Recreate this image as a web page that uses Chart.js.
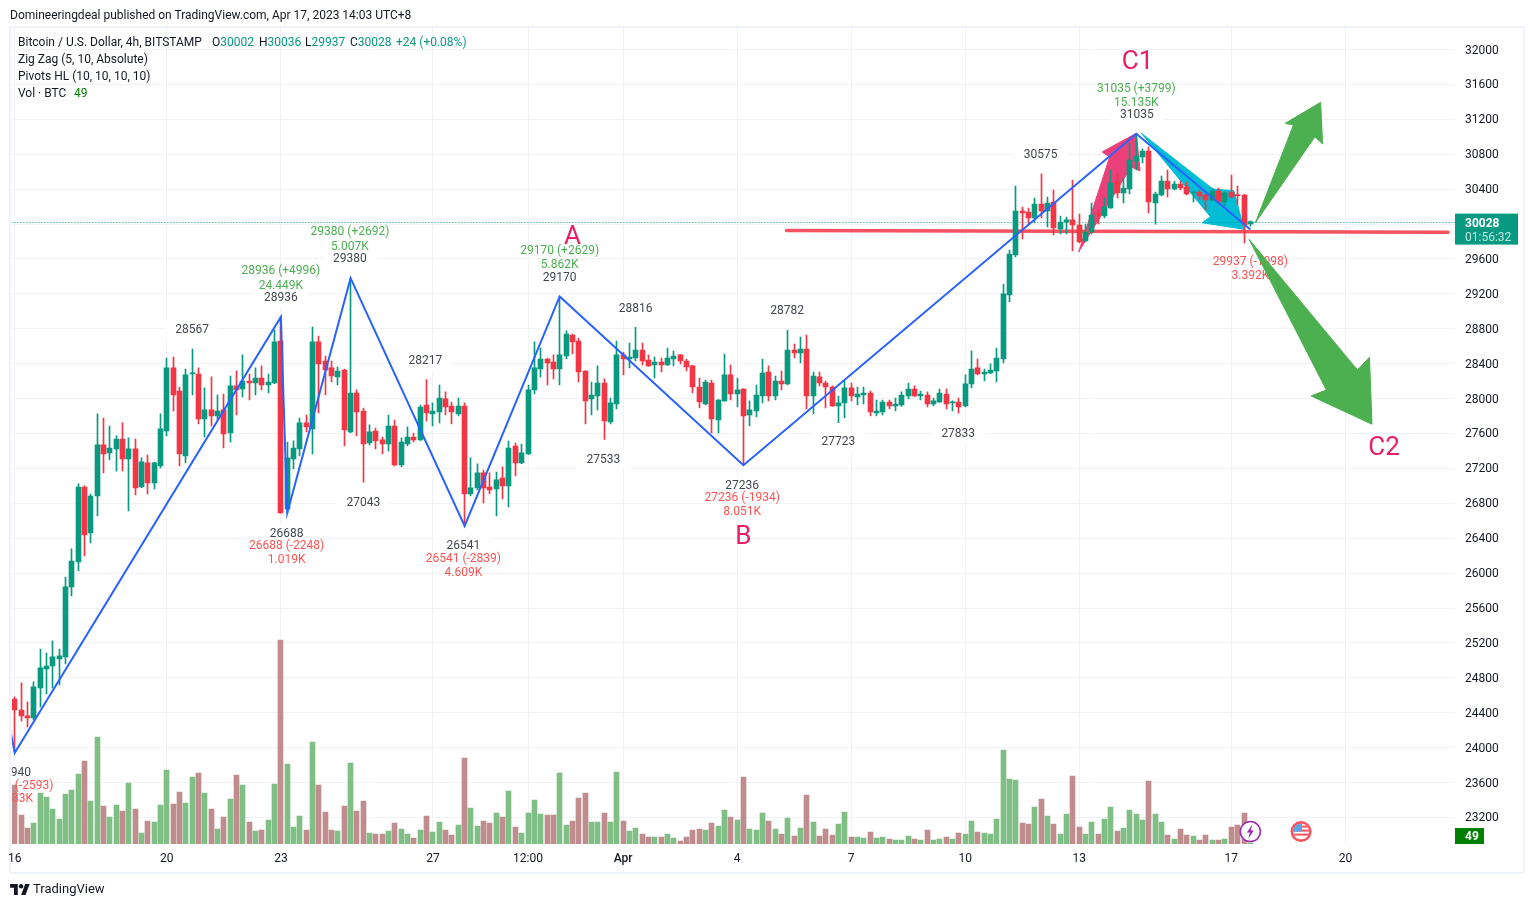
<!DOCTYPE html>
<html>
<head>
<meta charset="utf-8">
<title>BTCUSD 4h</title>
<script src="https://cdn.jsdelivr.net/npm/chart.js@4"></script>
<style>
  html, body { margin: 0; background: #fff; overflow: hidden; }
  body { width: 1533px; height: 907px; position: relative; font: 12px Roboto, sans-serif; color: #131722; }
  canvas { position: absolute; left: 0; top: 0; }
  .frame { position: absolute; left: 9px; top: 26px; width: 1512px; height: 844px; border: 2px solid #f0f3fa; }
  .txt { position: absolute; white-space: nowrap; line-height: 14px; z-index: 2; }
  .val { color: #089981; }
</style>
</head>
<body>
<div class="frame"></div>
<canvas id="chart" width="1533" height="907"></canvas>

<div class="txt" style="left:10px;top:8px">Domineeringdeal published on TradingView.com, Apr 17, 2023 14:03 UTC+8</div>
<div class="txt" style="left:18px;top:35px">Bitcoin / U.S. Dollar, 4h, BITSTAMP</div>
<div class="txt" style="left:212px;top:35px">O<span class="val">30002</span></div>
<div class="txt" style="left:259px;top:35px">H<span class="val">30036</span></div>
<div class="txt" style="left:305px;top:35px">L<span class="val">29937</span></div>
<div class="txt" style="left:350px;top:35px">C<span class="val">30028</span></div>
<div class="txt val" style="left:396px;top:35px">+24 (+0.08%)</div>
<div class="txt" style="left:18px;top:52px">Zig Zag (5, 10, Absolute)</div>
<div class="txt" style="left:18px;top:69px">Pivots HL (10, 10, 10, 10)</div>
<div class="txt" style="left:18px;top:86px">Vol · BTC</div>
<div class="txt" style="left:74px;top:86px;color:#008000">49</div>

<svg style="position:absolute;left:10px;top:884px" width="20" height="11" viewBox="0 0 36 20">
  <path fill="#131722" d="M14 20H7V7H0V0h14v20zM28 20h-8l7.5-20h8L28 20z"/><circle cx="20" cy="4" r="4" fill="#131722"/>
</svg>
<div class="txt" style="left:33px;top:882px;font-size:13px">TradingView</div>

<script>
// ── Data ─────────────────────────────────────────────────────────
const opens = [
  24558,24432,24364,24341,24684,24902,24936,25017,25040,25842,
  26128,26987,26460,26884,27469,27377,27423,27537,27308,27423,
  26988,27263,27033,27228,27629,28351,28087,27343,28284,28282,
  27767,27870,27801,27870,27606,28145,28110,28202,28179,28236,
  28156,28179,28660,26735,27308,27423,27721,27652,28649,28431,
  28351,28248,28328,27618,28064,27858,27491,27629,27526,27480,
  27686,27239,27480,27560,27526,27927,27824,27847,27996,27915,
  27824,27915,26907,26976,27148,26987,26964,27090,26999,27457,
  27262,27365,28099,28339,28454,28419,28339,28488,28729,28660,
  28316,27996,28030,28179,27732,27938,28500,28454,28465,28557,
  28442,28385,28419,28385,28454,28500,28431,28374,28133,27938,
  28179,27755,27973,28271,28053,28110,27812,27858,28030,28305,
  28030,28202,28167,28557,28522,28568,28030,28248,28179,28133,
  27915,27950,28122,28019,28041,28064,27835,27847,27961,27915,
  27927,28030,28110,28030,28041,27938,27961,28053,27950,27961,
  27915,28168,28351,28282,28294,28316,28454,29187,29645,30150,
  30138,30069,30230,30150,30253,29943,30024,30047,29989,29806,
  29909,30115,30092,30184,30482,30356,30402,30723,30768,30837,
  30241,30333,30493,30402,30459,30425,30356,30367,30333,30276,
  30379,30253,30367,30333,30333,30002
];
const highs = [
  24581,24742,24524,24753,25131,25085,25223,25131,25956,26277,
  27022,26999,26907,27824,27778,27686,27572,27721,27549,27537,
  27320,27354,27270,27824,28465,28477,28133,28339,28567,28351,
  28122,28248,28042,28053,28259,28317,28500,28282,28351,28374,
  28282,28786,28936,27503,27515,27778,27812,28820,28717,28488,
  28431,28362,28339,29380,28099,27892,27698,27663,27560,27812,
  27755,27549,27675,27606,27927,28217,27950,28156,28076,27961,
  28007,27950,27320,27251,27182,27148,27159,27217,27514,27491,
  27480,28156,28649,28580,28460,28500,29170,28775,28740,28694,
  28320,28190,28374,28225,28007,28660,28534,28637,28816,28637,
  28500,28477,28465,28580,28545,28505,28454,28380,28236,28213,
  28213,27990,28511,28385,28236,28115,27973,28156,28454,28374,
  28259,28316,28782,28626,28706,28729,28305,28305,28202,28145,
  28030,28202,28179,28133,28133,28087,27984,27984,27984,28007,
  28076,28179,28145,28087,28076,28007,28110,28110,27973,28007,
  28271,28546,28454,28339,28397,28580,29313,29703,30436,30195,
  30184,30298,30575,30310,30390,30092,30081,30505,30115,30001,
  30241,30161,30299,30619,30574,30528,30929,31035,30860,30883,
  30367,30551,30619,30493,30493,30482,30379,30390,30344,30413,
  30413,30367,30562,30436,30340,30036
];
const lows = [
  23951,24306,24238,24318,24467,24616,24684,24719,24959,25738,
  26025,26197,26346,26655,27148,27297,27167,27171,26713,26896,
  26980,26907,26965,27205,27572,27858,27228,27263,28042,27709,
  27560,27686,27755,27434,27503,27812,28019,27984,28042,28099,
  28064,28170,26688,26688,27194,27343,27618,27365,27835,28041,
  28190,28156,27457,27606,27572,27043,27469,27423,27365,27400,
  27228,27217,27457,27503,27520,27744,27686,27721,27812,27709,
  27801,26541,26884,26953,26804,26907,26655,26850,26758,27113,
  27255,27360,28053,28248,28156,28225,28156,28454,28511,28190,
  27709,27812,27870,27533,27709,27881,28271,28351,28431,28385,
  28370,28236,28305,28380,28374,28396,28316,28064,27892,27927,
  27606,27606,27968,27984,27904,27236,27686,27789,27950,27973,
  27984,28099,28156,28465,28408,27881,27824,28145,27893,27910,
  27723,27778,27973,27927,27938,27801,27801,27812,27881,27858,
  27910,27996,28025,27984,27904,27915,27955,27881,27858,27833,
  27904,28122,28271,28202,28282,28190,28408,29107,29623,29829,
  29989,30012,30069,29966,29875,29886,29886,29691,29783,29794,
  29886,30001,30069,30180,30299,30241,30345,30619,30700,30127,
  29999,30322,30310,30390,30390,30333,30253,30276,30161,30264,
  30250,30207,30299,30218,29783,29975
];
const closes = [
  24432,24364,24341,24696,24914,24936,25040,25051,25842,26139,
  26987,26437,26884,27469,27366,27434,27537,27308,27423,26976,
  27274,27033,27263,27652,28351,28042,27366,28271,28292,27767,
  27870,27801,27858,27595,28145,28099,28202,28179,28236,28156,
  28190,28649,26690,27320,27434,27721,27675,28649,28397,28328,
  28259,28316,27640,28064,27847,27480,27618,27514,27480,27686,
  27239,27503,27560,27526,27904,27835,27858,28007,27904,27847,
  27915,26907,26976,27148,26976,26953,27068,26999,27434,27262,
  27377,28099,28351,28454,28408,28339,28500,28740,28649,28305,
  27973,28041,28179,27743,27950,28500,28454,28477,28557,28431,
  28374,28419,28385,28465,28488,28431,28362,28133,27961,28190,
  27766,27984,28271,28053,28099,27801,27870,28041,28293,28030,
  28202,28167,28557,28522,28568,28030,28259,28179,28133,27915,
  27950,28122,28030,28053,28064,27847,27858,27961,27915,27938,
  28041,28110,28030,28053,27938,27973,28064,27938,27961,27904,
  28168,28339,28282,28305,28328,28465,29199,29657,30150,30127,
  30069,30230,30150,30241,29955,30024,30047,29989,29794,29909,
  30104,30104,30195,30470,30356,30413,30734,30780,30837,30253,
  30344,30493,30402,30459,30413,30344,30367,30321,30276,30379,
  30253,30356,30310,30325,29989,30028
];
const volumes = [
  2950,1450,800,1050,2550,2350,1750,1250,2500,2700,
  3500,4150,2150,5350,1900,1350,1950,1650,3050,1750,
  550,1150,1100,1950,3700,2000,2600,2050,3350,3550,
  2550,1750,750,1350,2250,3450,2950,1100,650,700,
  1200,3000,10200,4000,850,1400,700,5100,2950,1600,
  700,650,1900,4050,1650,2150,550,500,500,650,
  1050,750,500,300,700,1400,600,1100,700,450,
  950,4300,1800,900,1150,1050,1550,1350,2650,850,
  550,1550,2200,1500,1450,1450,3550,950,1150,2300,
  2550,1100,1100,1550,1100,3600,1150,650,800,500,
  350,350,350,500,300,150,350,700,750,700,
  1050,900,1700,1350,1200,3350,750,700,1550,1150,
  750,500,1300,400,800,2450,1100,400,750,450,
  1000,1600,350,350,300,600,300,350,250,200,
  200,400,250,200,700,200,250,350,250,550,
  500,1150,600,550,500,1250,4700,3250,3200,1050,
  1000,1850,2250,1400,1000,500,1500,3400,850,500,
  1100,500,1250,1850,650,800,1700,1500,1200,3150,
  1500,1100,450,250,750,450,400,200,450,200,
  200,250,850,950,1550,49
];

// zig zag pivots, bar number and price
const zigBars = [-7, 0, 42, 43, 53, 71, 86, 115, 177, 195];
const zigPrices = [26533, 23940, 28936, 26688, 29380, 26541, 29170, 27236, 31035, 29937];

const lastPrice = 30028;
const levelBars = [121.8, 226.2];
const levelPrices = [29925, 29905];

// hand drawn arrows as [bar, price] outlines
const pinkArrow = [[167.9, 29680], [172.8, 30768], [171.6, 30826], [177, 31040], [177.6, 30608], [176.2, 30654]];
const cyanArrow = [[177.8, 31040], [189.1, 30402], [192.4, 30382], [194, 29940], [187.4, 30015], [188.7, 30084]];
const upArrow = [[195.8, 30015], [201.8, 31135], [200.5, 31154], [206.1, 31395], [206.4, 30917], [205.2, 31001]];
const downArrow = [[194.8, 29825], [211.9, 28328], [213.8, 28473], [214.2, 27706], [204.6, 28030], [207, 28099]];

const priceTicksStep = 400;
const dayBars = [0, 24, 42, 66, 81, 96, 114, 132, 150, 168, 192, 210];
const dayLabels = ['16', '20', '23', '27', '12:00', 'Apr', '4', '7', '10', '13', '17', '20'];

const pivotLabels = [
  ['28936', 42, 29164], ['29380', 52.9, 29611], ['28567', 28, 28798], ['28217', 64.8, 28442],
  ['29170', 86, 29393], ['28816', 98, 29038], ['28782', 121.9, 29015], ['30575', 161.9, 30803],
  ['31035', 177.1, 31261], ['26688', 42.9, 26460], ['27043', 55, 26815], ['26541', 70.8, 26323],
  ['27533', 92.9, 27308], ['27236', 114.8, 27010], ['27723', 130, 27514], ['27833', 148.9, 27606],
  ['23940', -0.1, 23722]
];
const upLabels = [
  ['29380 (+2692)', 52.9, 29915], ['5.007K', 52.9, 29754],
  ['28936 (+4996)', 42, 29468], ['24.449K', 42, 29307],
  ['29170 (+2629)', 86, 29703], ['5.862K', 86, 29542],
  ['31035 (+3799)', 177, 31559], ['15.135K', 177, 31398]
];
const downLabels = [
  ['26688 (-2248)', 42.9, 26323], ['1.019K', 42.9, 26162],
  ['26541 (-2839)', 70.8, 26174], ['4.609K', 70.8, 26013],
  ['27236 (-1934)', 114.8, 26873], ['8.051K', 114.8, 26712],
  ['29937 (-1098)', 195, 29577], ['3.392K', 195, 29416],
  ['23940 (-2593)', 0.15, 23573], ['1.683K', -0.1, 23424]
];
const waveLabels = [['A', 88, 29863], ['B', 115, 26414], ['C1', 177.2, 31857], ['C2', 216.1, 27434]];
const eventBars = [195, 203];

const UP = '#089981';
const DOWN = '#f23645';
const VOL_UP = '#7fbf85';
const VOL_DOWN = '#bf8d8d';
const GRID = '#f1f2f6';
const FONT = 'Roboto, sans-serif';

const bars = opens.map((_, i) => i);
const isUp = i => closes[i] >= opens[i];


// ── Drawing helpers ──────────────────────────────────────────────
function drawArrow(chart, outline, color) {
  const { ctx, scales: { x, y } } = chart;
  ctx.save();
  ctx.fillStyle = color;
  ctx.strokeStyle = color;
  ctx.lineJoin = 'round';
  ctx.beginPath();
  outline.forEach(([b, p], i) => {
    const px = x.getPixelForValue(b);
    const py = y.getPixelForValue(p);
    if (i === 0) ctx.moveTo(px, py); else ctx.lineTo(px, py);
  });
  ctx.closePath();
  ctx.fill();
  ctx.stroke();
  ctx.restore();
}

function clipToArea(chart, draw) {
  const { ctx, chartArea: a } = chart;
  ctx.save();
  ctx.beginPath();
  ctx.rect(a.left, a.top, a.right - a.left, a.bottom - a.top);
  ctx.clip();
  draw(ctx);
  ctx.restore();
}

function drawTexts(chart, list, color, font, plate) {
  const { scales: { x, y } } = chart;
  clipToArea(chart, ctx => {
    ctx.font = font;
    ctx.textAlign = 'center';
    ctx.textBaseline = 'middle';
    list.forEach(([text, b, p]) => {
      const px = x.getPixelForValue(b);
      const py = y.getPixelForValue(p) + 1;
      if (plate) {
        const w = ctx.measureText(text).width + 20;
        ctx.fillStyle = '#fff';
        ctx.fillRect(px - w / 2, py - 9, w, 18);
      }
      ctx.fillStyle = color;
      ctx.fillText(text, px, py);
    });
  });
}

function drawEvents(chart) {
  const { ctx, scales: { x, y1 } } = chart;
  const cy = y1.getPixelForValue(620);

  // energy style badge
  let cx = x.getPixelForValue(eventBars[0]);
  ctx.save();
  ctx.beginPath();
  ctx.arc(cx, cy, 10, 0, Math.PI * 2);
  ctx.fillStyle = '#fff';
  ctx.fill();
  ctx.lineWidth = 1.5;
  ctx.strokeStyle = '#9c27b0';
  ctx.stroke();
  ctx.fillStyle = '#9c27b0';
  ctx.beginPath();
  ctx.moveTo(cx + 2, cy - 7);
  ctx.lineTo(cx - 3.5, cy + 1);
  ctx.lineTo(cx - 0.5, cy + 1);
  ctx.lineTo(cx - 2, cy + 7);
  ctx.lineTo(cx + 3.5, cy - 1);
  ctx.lineTo(cx + 0.5, cy - 1);
  ctx.closePath();
  ctx.fill();

  // US flag badge
  cx = x.getPixelForValue(eventBars[1]);
  ctx.beginPath();
  ctx.arc(cx, cy, 10.5, 0, Math.PI * 2);
  ctx.fillStyle = '#f7525f';
  ctx.fill();
  ctx.save();
  ctx.beginPath();
  ctx.arc(cx, cy, 8, 0, Math.PI * 2);
  ctx.clip();
  ctx.fillStyle = '#fff';
  ctx.fillRect(cx - 8, cy - 8, 16, 16);
  ctx.fillStyle = '#f7525f';
  ctx.fillRect(cx - 8, cy - 6, 16, 2);
  ctx.fillRect(cx - 8, cy - 2, 16, 2);
  ctx.fillRect(cx - 8, cy + 2, 16, 2);
  ctx.fillStyle = '#5aa7e8';
  ctx.fillRect(cx - 8, cy - 8, 9, 8);
  ctx.restore();
  ctx.restore();
}

function drawScaleBoxes(chart) {
  const { ctx, chartArea: a, scales: { y } } = chart;
  const py = y.getPixelForValue(lastPrice);
  ctx.save();
  ctx.fillStyle = UP;
  ctx.fillRect(a.right, py - 8, 63, 31);
  ctx.textAlign = 'left';
  ctx.textBaseline = 'middle';
  ctx.font = `bold 12px ${FONT}`;
  ctx.fillStyle = '#fff';
  ctx.fillText(String(lastPrice), a.right + 10, py + 2);
  ctx.font = `12px ${FONT}`;
  ctx.fillStyle = 'rgba(255,255,255,0.75)';
  ctx.fillText('01:56:32', a.right + 10, py + 16);

  ctx.fillStyle = '#008000';
  ctx.fillRect(a.right, a.bottom - 16, 29, 16);
  ctx.font = `bold 12px ${FONT}`;
  ctx.fillStyle = '#fff';
  ctx.fillText(String(volumes[volumes.length - 1]), a.right + 10, a.bottom - 7.5);
  ctx.restore();
}


// ── Overlay plugin ───────────────────────────────────────────────
const overlays = {
  id: 'overlays',
  beforeDatasetsDraw(chart) {
    // snap bars and the price line to whole pixels so they stay crisp
    chart.data.datasets.forEach((ds, i) => {
      const meta = chart.getDatasetMeta(i);
      if (ds.snapY) meta.data.forEach(pt => { pt.y = Math.round(pt.y) + 0.5; });
      if (ds.type === 'line') return;
      meta.data.forEach(el => { el.x = Math.floor(el.x) + 0.5; });
    });
    drawTexts(chart, pivotLabels, '#434651', `12px ${FONT}`, true);
    drawArrow(chart, pinkArrow, '#ec407a');
    drawArrow(chart, cyanArrow, '#00bcd4');
  },
  afterDatasetsDraw(chart) {
    drawTexts(chart, upLabels, '#4caf50', `12px ${FONT}`);
    drawTexts(chart, downLabels, '#ff5252', `12px ${FONT}`);
    drawTexts(chart, waveLabels, '#e91e63', `26px ${FONT}`);
    drawArrow(chart, upArrow, '#4caf50');
    drawArrow(chart, downArrow, '#4caf50');
    drawEvents(chart);
    drawScaleBoxes(chart);
  }
};


// ── Chart ────────────────────────────────────────────────────────
new Chart(document.getElementById('chart'), {
  type: 'bar',
  plugins: [overlays],
  data: {
    datasets: [
      {
        type: 'line',
        data: zigBars.map((b, i) => ({ x: b, y: zigPrices[i] })),
        borderColor: '#2962ff',
        borderWidth: 2,
        pointRadius: 0,
        tension: 0,
        order: 0
      },
      {
        data: bars.map(i => ({ x: i, y: [opens[i], closes[i]] })),
        backgroundColor: c => isUp(c.dataIndex) ? UP : DOWN,
        barThickness: 5,
        minBarLength: 1,
        grouped: false,
        order: 1
      },
      {
        data: bars.map(i => ({ x: i, y: [lows[i], highs[i]] })),
        backgroundColor: c => isUp(c.dataIndex) ? UP : DOWN,
        barThickness: 1,
        grouped: false,
        order: 2
      },
      {
        type: 'line',
        data: levelBars.map((b, i) => ({ x: b, y: levelPrices[i] })),
        borderColor: '#f7525f',
        borderWidth: 3.5,
        borderCapStyle: 'round',
        pointRadius: 0,
        order: 3
      },
      {
        type: 'line',
        snapY: true,
        data: [{ x: -1, y: lastPrice }, { x: 228, y: lastPrice }],
        borderColor: UP,
        borderWidth: 1,
        borderDash: [1, 2],
        pointRadius: 0,
        order: 4
      },
      {
        data: bars.map(i => ({ x: i, y: volumes[i] })),
        backgroundColor: c => isUp(c.dataIndex) ? VOL_UP : VOL_DOWN,
        barThickness: 5,
        grouped: false,
        yAxisID: 'y1',
        order: 5
      }
    ]
  },
  options: {
    responsive: false,
    animation: false,
    layout: { padding: { left: 11, top: 27 } },
    plugins: {
      legend: { display: false },
      tooltip: { enabled: false }
    },
    scales: {
      x: {
        type: 'linear',
        offset: false,
        min: -0.47,
        max: 227.3,
        grid: { color: GRID, offset: false, drawTicks: false },
        border: { display: false },
        afterBuildTicks: s => { s.ticks = dayBars.map(v => ({ value: v })); },
        afterFit: s => { s.height = 63; },
        ticks: {
          autoSkip: false,
          maxRotation: 0,
          padding: 8,
          color: '#131722',
          font: c => ({ family: FONT, size: 12, weight: dayLabels[c.index] === 'Apr' ? '500' : '400' }),
          callback: v => dayLabels[dayBars.indexOf(v)]
        }
      },
      y: {
        position: 'right',
        min: 22896,
        max: 32258,
        grid: { color: GRID, drawTicks: false },
        border: { display: false },
        afterFit: s => { s.width = 78; },
        ticks: {
          stepSize: priceTicksStep,
          autoSkip: false,
          includeBounds: false,
          padding: 10,
          labelOffset: 1,
          color: '#131722',
          font: { family: FONT, size: 12 },
          callback: v => String(v)
        }
      },
      y1: {
        display: false,
        position: 'right',
        min: 0,
        max: 40850,
        grid: { display: false }
      }
    }
  }
});
</script>
</body>
</html>
